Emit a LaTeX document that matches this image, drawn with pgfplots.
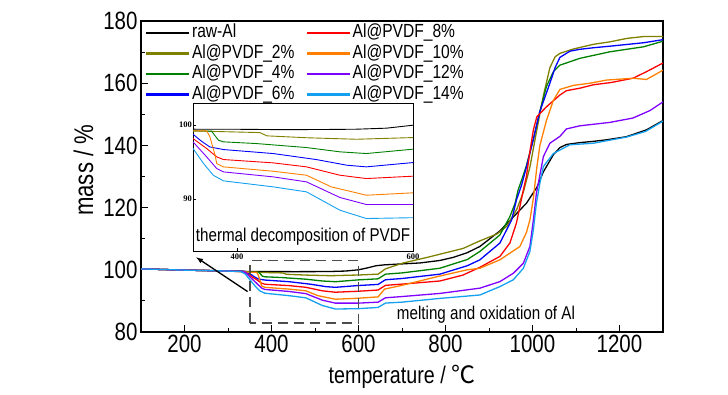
\documentclass[border=0pt]{standalone}
\usepackage{pgfplots}
\usepackage{pgfplotstable}
\pgfplotsset{compat=1.18}
\usepackage{fontspec}
\setmainfont{Liberation Sans}[FakeStretch=0.82]
\newfontfamily\cjk{Noto Sans CJK SC}
\newfontfamily\tserif{Liberation Serif}
\definecolor{cOlive}{RGB}{128,128,0}
\definecolor{cGreen}{RGB}{0,128,0}
\definecolor{cBlue}{RGB}{0,0,255}
\definecolor{cRed}{RGB}{255,0,0}
\definecolor{cOrange}{RGB}{255,128,0}
\definecolor{cPurple}{RGB}{128,0,255}
\definecolor{cLight}{RGB}{20,160,240}

\pgfplotstableread{
x y
100 100.3
150 100.1
200 99.9
250 99.8
300 99.6
350 99.46
400 99.45
450 99.4
500 99.42
536 99.46
570 99.6
600 100.0
620 100.6
640 101.3
660 101.6
700 101.9
741 102.2
787 103.0
818 104.0
850 105.5
879 107.5
925 112.5
956 117.0
986 121.4
1010 126.5
1025 131.5
1048 137.0
1063 139.3
1078 140.3
1109 140.9
1140 141.3
1170 141.8
1216 142.8
1262 145.0
1300 148.0
}\tBlack

\pgfplotstableread{
x y
100 100.3
200 99.9
300 99.6
330 99.5
350 99.23
426 99.0
434 98.56
480 98.3
536 98.1
600 98.33
645 98.6
662 100.3
703 102.2
764 104.2
841 106.9
879 109.3
918 111.5
941 114
964 119.5
979 125
994 133
1010 145
1025 156
1040 165
1052 168.5
1063 169.6
1094 171
1140 172.5
1178 173.3
1217 174.4
1255 175.0
1300 175.0
}\tOlive

\pgfplotstableread{
x y
100 100.3
200 99.9
300 99.6
330 99.5
350 99.23
371 99.2
379 97.97
384.5 97.75
422 97.52
479 96.98
517 96.4
547 96.17
600 96.76
645 97.1
662 98.6
700 99.0
787 100.5
850 103.3
879 105.9
925 111.2
948 117.1
960 121.4
967 125.7
975 128.9
986 133.5
1002 142
1017 151
1032 158.9
1048 163.7
1063 165.8
1109 168.0
1178 170.1
1255 171.7
1300 173.5
}\tGreen

\pgfplotstableread{
x y
100 100.3
200 99.9
300 99.6
335 99.5
350 98.78
360 97.8
369 97.07
384.5 96.71
441 96.17
490 95.36
525 94.59
547 94.37
600 94.95
645 95.3
662 96.8
700 97.2
787 98.6
850 101.3
879 103.2
925 108.6
952 116
963 122.4
975 127.3
986 133
1002 142
1017 151
1040 160
1052 165
1063 168.3
1086 170.3
1109 170.9
1140 171.4
1178 171.9
1255 173.0
1300 174.0
}\tBlue

\pgfplotstableread{
x y
100 100.3
200 99.9
300 99.6
335 99.4
350 98.2
365.5 96.85
377 95.72
384.5 95.36
441 94.91
479 94.37
517 93.24
547 92.79
600 93.11
645 93.5
662 95.0
700 95.4
787 96.4
840 98.3
879 100.8
925 104.3
948 108.6
963 115
971 120.3
979 125.7
986 130
994 138
1002 145
1010 149.2
1032 152.4
1063 156.2
1078 157.6
1109 158.4
1140 159.5
1180 160.2
1231 161.6
1262 163.7
1300 166.5
}\tRed

\pgfplotstableread{
x y
100 100.3
200 99.9
300 99.6
350 99.23
365.5 99.23
369 98.5
375 96.0
377 94.82
384.5 94.37
441 93.78
479 93.24
507 91.67
547 90.54
600 90.86
645 91.3
660 93.8
700 95.0
787 98.0
850 100.0
879 100.5
925 103.2
971 107.5
986 112
994 116
1002 123
1010 133
1017 140
1032 148
1048 154.5
1063 158
1094 159.3
1132 160
1170 161
1231 161.6
1262 161.2
1285 163
1300 164.2
}\tOrange

\pgfplotstableread{
x y
100 100.3
200 99.9
300 99.6
330 99.5
340 99.2
350 97.75
365.5 95.72
377 94.14
384.5 93.69
441 93.02
479 92.34
517 90.23
547 89.28
600 89.28
645 89.6
662 91.0
700 91.4
787 92.4
879 94.1
925 96.2
956 98.9
979 102.1
994 107.5
1002 116
1009 124.6
1015 129
1025 136.4
1040 140.7
1063 142.9
1078 145.3
1109 146.3
1178 147.4
1231 148.8
1270 151.2
1300 154.0
}\tPurple

\pgfplotstableread{
x y
100 100.3
200 99.9
300 99.6
330 99.4
340 98.6
350 96.85
362 94.82
373 93.24
384.5 92.48
441 91.67
479 90.99
517 88.51
547 87.39
600 87.5
645 87.9
662 89.3
700 89.6
787 90.8
879 91.9
925 94.6
956 96.8
979 100.5
994 105.9
1002 112.8
1009 121.4
1017 127.8
1025 133.2
1048 137.4
1063 138.5
1086 140.2
1140 140.7
1217 142.7
1260 144.5
1300 147.8
}\tLight

\begin{document}
\begin{tikzpicture}
\useasboundingbox (0,0) rectangle (728pt,394pt);
\begin{axis}[
  at={(141pt,62pt)}, anchor=south west,
  width=522pt, height=311pt, scale only axis,
  xmin=100, xmax=1300, ymin=80, ymax=180,
  xtick={200,400,...,1200}, ytick={80,100,...,180},
  minor x tick num=1, minor y tick num=1,
  tick align=inside, xtick pos=bottom, ytick pos=left,
  major tick length=7pt, minor tick length=4pt,
  axis line style={line width=1.3pt},
  every tick/.style={black, line width=1pt},
  tick label style={font=\fontsize{25}{25}\selectfont},
  /pgf/number format/assume math mode=true,
  /pgf/number format/set thousands separator={},
  xlabel={temperature / {\cjk ℃}},
  ylabel={mass / \%},
  xlabel style={font=\fontsize{24}{24}\selectfont, at={(axis description cs:0.5,-0.145)}, anchor=center},
  ylabel style={font=\fontsize{27}{27}\selectfont, at={(axis description cs:-0.11,0.52)}, anchor=center},
  legend columns=4, transpose legend,
  legend cell align=left,
  legend image code/.code={\draw[#1, line width=2.2pt] (0pt,0pt) -- (43pt,0pt);},
  legend style={at={(axis description cs:0.008,0.995)}, anchor=north west,
    draw=none, fill=none, inner sep=0pt,
    font=\fontsize{19}{19}\selectfont, row sep=0pt,
    nodes={inner sep=1.5pt, text height=13.5pt, text depth=4pt},
    /tikz/every even column/.append style={column sep=10pt}},
  every axis plot/.append style={line width=1.3pt},
]
\addplot[black] table {\tBlack}; \addlegendentry{raw-Al}
\addplot[cOlive] table {\tOlive}; \addlegendentry{Al@PVDF\_2\%}
\addplot[cGreen] table {\tGreen}; \addlegendentry{Al@PVDF\_4\%}
\addplot[cBlue] table {\tBlue}; \addlegendentry{Al@PVDF\_6\%}
\addplot[cRed] table {\tRed}; \addlegendentry{Al@PVDF\_8\%}
\addplot[cOrange] table {\tOrange}; \addlegendentry{Al@PVDF\_10\%}
\addplot[cPurple] table {\tPurple}; \addlegendentry{Al@PVDF\_12\%}
\addplot[cLight] table {\tLight}; \addlegendentry{Al@PVDF\_14\%}
\draw[black!70, line width=1.7pt, dash pattern=on 10pt off 6pt] (axis cs:350,83) rectangle (axis cs:600,103);
\draw[-latex, line width=1.3pt] (axis cs:345,93) -- (axis cs:227,104);
\node[font=\fontsize{18.5}{18.5}\selectfont] at (axis cs:893,85.6) {melting and oxidation of Al};
\end{axis}

\begin{axis}[
  at={(193pt,143pt)}, anchor=south west,
  width=220pt, height=148pt, scale only axis,
  xmin=350, xmax=600, ymin=83, ymax=103,
  xtick={400,600}, ytick={90,100},
  tick align=inside, xtick pos=bottom, ytick pos=left,
  major tick length=3pt,
  axis background/.style={fill=white},
  axis line style={line width=0.8pt},
  every tick/.style={black, line width=0.6pt},
  tick label style={font=\tserif\bfseries\fontsize{8.5}{8.5}\selectfont},
  xticklabel style={inner sep=1pt, yshift=-2pt},
  yticklabel style={inner sep=1pt},
  /pgf/number format/assume math mode=true,
  every axis plot/.append style={line width=0.9pt},
]
\addplot[black] table {\tBlack};
\addplot[cOlive] table {\tOlive};
\addplot[cGreen] table {\tGreen};
\addplot[cBlue] table {\tBlue};
\addplot[cRed] table {\tRed};
\addplot[cOrange] table {\tOrange};
\addplot[cPurple] table {\tPurple};
\addplot[cLight] table {\tLight};
\node[font=\fontsize{18.5}{18.5}\selectfont] at (axis cs:475,84.9) {thermal decomposition of PVDF};
\end{axis}
\end{tikzpicture}
\end{document}
